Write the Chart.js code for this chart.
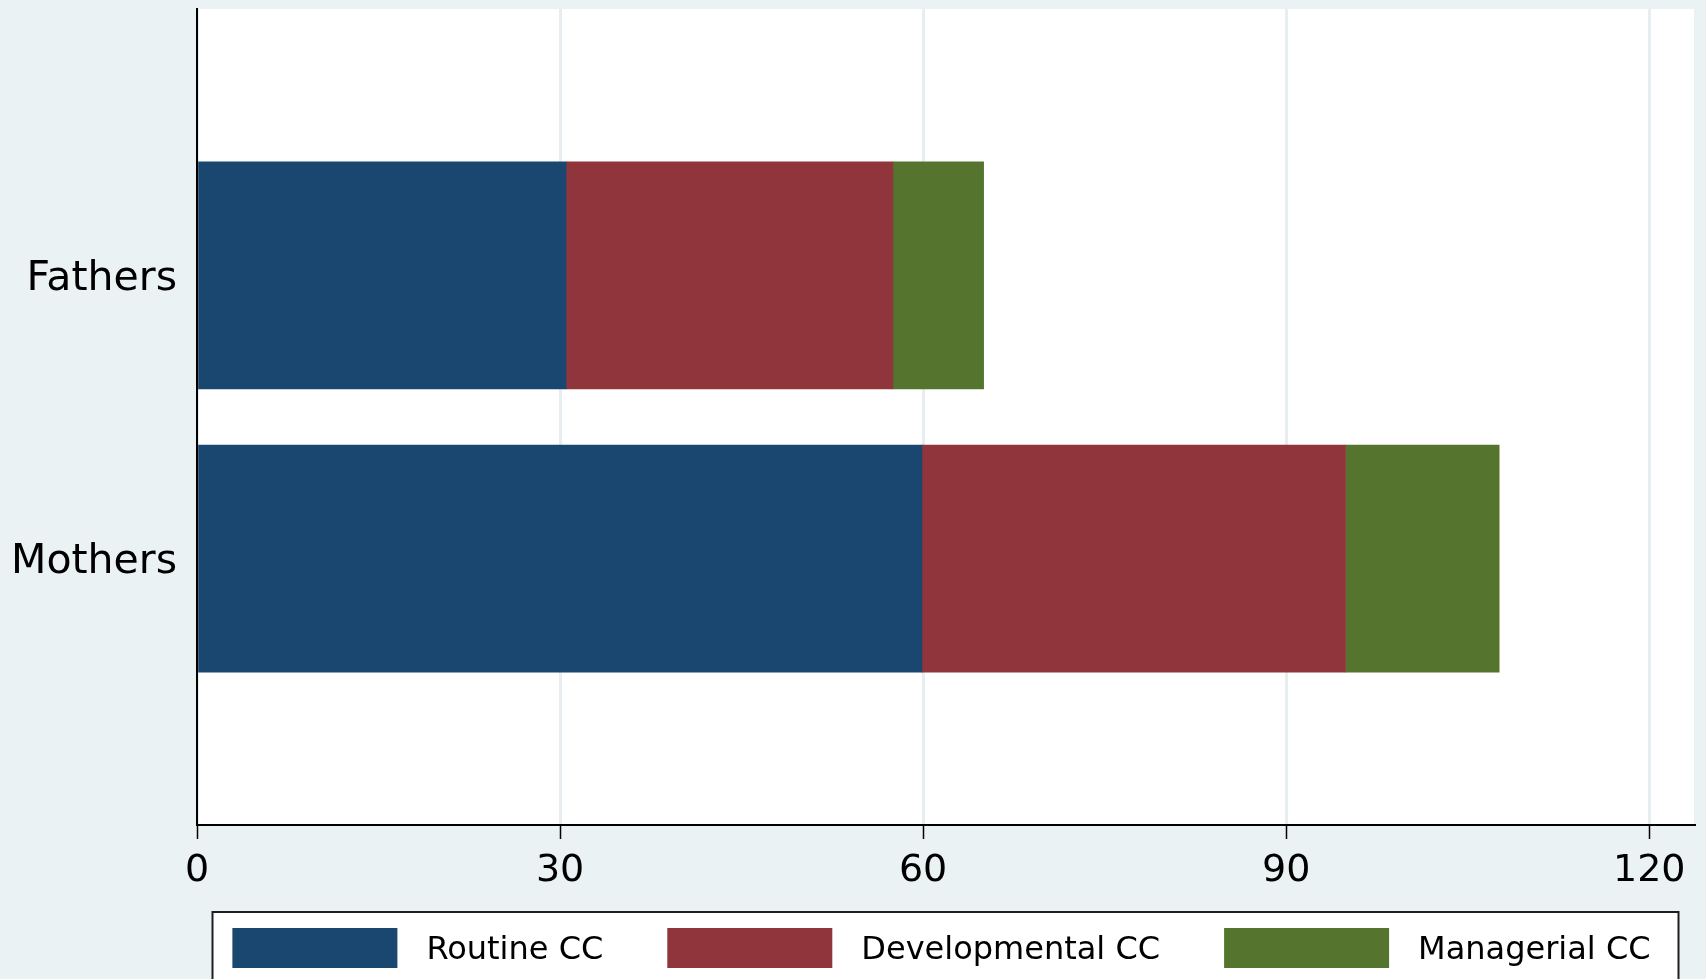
<!DOCTYPE html>
<html>
<head>
<meta charset="utf-8">
<script src="https://cdn.jsdelivr.net/npm/chart.js@4/dist/chart.umd.min.js"></script>
<style>
    body { margin: 0; background: #eaf2f3; }
    canvas { display: block; }
</style>
</head>
<body>
<canvas id="careChart" width="1706" height="979"></canvas>
<script>
const categories = ['Fathers', 'Mothers'];
const routineCC = [30.5, 59.9];
const developmentalCC = [27.0, 35.0];
const managerialCC = [7.5, 12.7];
const xTicks = [0, 30, 60, 90, 120];

const seriesColors = ['#1a476f', '#90353b', '#55752f'];

const toPoints = (values) => values.map((v, i) => ({ x: v, y: i + 1 }));

// white plot region on the grey-blue page
const plotBackground = {
    id: 'plotBackground',
    beforeDraw(chart) {
        const { ctx, chartArea: a } = chart;
        ctx.save();
        ctx.fillStyle = '#ffffff';
        ctx.fillRect(a.left, a.top, a.right - a.left, a.bottom - a.top);
        ctx.restore();
    }
};

// framed legend under the axis, like the stata one
const boxLegend = {
    id: 'boxLegend',
    afterDraw(chart) {
        const { ctx, chartArea: a } = chart;
        const top = a.bottom + 87;
        const center = (a.left + a.right) / 2;
        ctx.save();
        ctx.fillStyle = '#ffffff';
        ctx.strokeStyle = '#1e1e1e';
        ctx.lineWidth = 2;
        ctx.fillRect(center - 733, top, 1466, 100);
        ctx.strokeRect(center - 733, top, 1466, 100);

        ctx.font = '32px "DejaVu Sans"';
        const items = chart.data.datasets.map(ds => ({
            label: ds.label,
            color: ds.backgroundColor,
            w: ctx.measureText(ds.label).width
        }));
        const total = items.reduce((s, it) => s + 165 + 29 + it.w, 0) + 64 * (items.length - 1);
        let x = center - total / 2 - 4;
        items.forEach(it => {
            ctx.fillStyle = it.color;
            ctx.fillRect(x, top + 16, 165, 40);
            ctx.fillStyle = '#000000';
            ctx.textBaseline = 'alphabetic';
            ctx.fillText(it.label, x + 194, top + 47);
            x += 194 + it.w + 64;
        });
        ctx.restore();
    }
};

Chart.defaults.font.family = '"DejaVu Sans", sans-serif';
Chart.defaults.color = '#000000';

new Chart(document.getElementById('careChart'), {
    type: 'bar',
    data: {
        datasets: [{
            label: 'Routine CC',
            data: toPoints(routineCC),
            backgroundColor: seriesColors[0]
        }, {
            label: 'Developmental CC',
            data: toPoints(developmentalCC),
            backgroundColor: seriesColors[1]
        }, {
            label: 'Managerial CC',
            data: toPoints(managerialCC),
            backgroundColor: seriesColors[2]
        }]
    },
    options: {
        indexAxis: 'y',
        responsive: false,
        animation: false,
        barThickness: 227,
        borderWidth: 0,
        layout: {
            padding: { top: 9, right: 12, left: 0, bottom: 0 }
        },
        plugins: {
            legend: { display: false },
            tooltip: { enabled: false }
        },
        scales: {
            x: {
                type: 'linear',
                stacked: true,
                min: 0,
                max: 123.7,
                afterBuildTicks: (scale) => {
                    scale.ticks = xTicks.map(v => ({ value: v }));
                },
                afterFit: (scale) => {
                    scale.height = 154;
                    scale.paddingLeft = 0;
                    scale.paddingRight = 0;
                },
                ticks: {
                    font: { size: 38 },
                    padding: 9.5,
                    maxRotation: 0
                },
                grid: {
                    color: '#e6eef1',
                    lineWidth: 3,
                    tickLength: 14,
                    tickColor: '#000000',
                    tickWidth: 1.5
                },
                border: { color: '#000000', width: 2 }
            },
            y: {
                type: 'linear',
                stacked: true,
                reverse: true,
                offset: false,
                bounds: 'data',
                min: 0.06,
                max: 2.94,
                afterDataLimits: (scale) => {
                    scale.min = 0.06;
                    scale.max = 2.94;
                },
                afterBuildTicks: (scale) => {
                    scale.ticks = categories.map((c, i) => ({ value: i + 1 }));
                },
                afterFit: (scale) => {
                    scale.width = 197;
                    scale.paddingTop = 0;
                    scale.paddingBottom = 0;
                },
                ticks: {
                    font: { size: 41 },
                    padding: 20,
                    labelOffset: 4,
                    autoSkip: false,
                    callback: (value) => categories[value - 1]
                },
                grid: { display: false, drawTicks: false, offset: false },
                border: { color: '#000000', width: 2 }
            }
        }
    },
    plugins: [plotBackground, boxLegend]
});
</script>
</body>
</html>
